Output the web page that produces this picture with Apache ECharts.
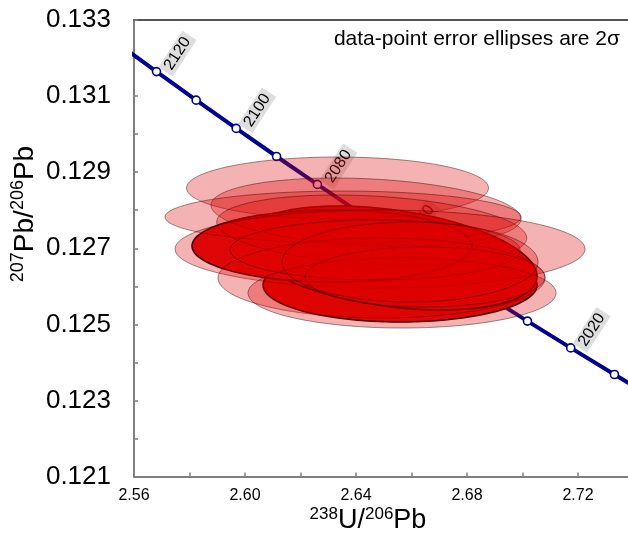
<!DOCTYPE html>
<html><head><meta charset="utf-8">
<script src="https://cdn.jsdelivr.net/npm/echarts@6/dist/echarts.min.js"></script>
<style>html,body{margin:0;padding:0;background:#fff}#c{width:628px;height:538px}</style>
</head><body><div id="c"></div>
<script>
// Concordia curve (age in Ma, 238U/206Pb, 207Pb/206Pb)
const concordiaAge = [2130,2120,2110,2100,2090,2080,2070,2060,2050,2040,2030,2020,2010,2000];
const concordiaX = [2.55396,2.56811,2.58240,2.59682,2.61138,2.62608,2.64092,2.65591,2.67105,2.68633,2.70177,2.71736,2.73311,2.74902];
const concordiaY = [0.132397,0.131643,0.130893,0.130151,0.129412,0.128679,0.127950,0.127226,0.126508,0.125794,0.125085,0.124381,0.123681,0.122987];
const labelAges = [2120,2100,2080,2060,2040,2020];

// Error ellipses (2 sigma): centre, half-extent in x and y, correlation, highlighted flag
const ellCenterX = [2.65586,2.65225,2.63135,2.63333,2.64360,2.63532,2.64566,2.64865,2.64919,2.65658,2.64685,2.66486,2.65946];
const ellCenterY = [0.126034,0.126743,0.127059,0.128584,0.127953,0.127821,0.127480,0.126980,0.126218,0.125823,0.126954,0.126244,0.126638];
const ellHalfX   = [0.04937,0.05297,0.05045,0.05441,0.05586,0.06414,0.05586,0.07387,0.05892,0.05550,0.05225,0.04324,0.04613];
const ellHalfY   = [0.000973,0.001367,0.000946,0.000815,0.000894,0.000683,0.000920,0.001025,0.001052,0.000920,0.000789,0.000789,0.001052];
const ellRho     = [0,-0.35,0,0,-0.2,0,-0.23,0,0,0,0,0,0];
const ellSolid   = [1,1,1,0,0,0,0,0,0,0,0,0,0];

const xTickLabels = ['2.56','2.60','2.64','2.68','2.72'];
const yTickLabels = ['0.121','0.123','0.125','0.127','0.129','0.131','0.133'];

const FONT = '"Liberation Sans", Arial, sans-serif';
const chart = echarts.init(document.getElementById('c'), null, {renderer:'canvas'});

const linePts = concordiaX.map((x,i)=>[x, concordiaY[i], concordiaAge[i]]);
const labelPts = linePts.filter(p => labelAges.indexOf(p[2]) >= 0);
const ellData = ellCenterX.map((x,i)=>[x, ellCenterY[i], ellHalfX[i], ellHalfY[i], ellRho[i], ellSolid[i]]);

function renderEllipse(params, api) {
  const cx = api.value(0), cy = api.value(1), sx = api.value(2), sy = api.value(3), rho = api.value(4), solid = api.value(5);
  const r2 = Math.sqrt(1 - rho*rho);
  const pts = [];
  const N = 120;
  for (let i = 0; i < N; i++) {
    const t = i / N * 2 * Math.PI;
    pts.push(api.coord([cx + sx*Math.cos(t), cy + sy*(rho*Math.cos(t) + r2*Math.sin(t))]));
  }
  return {
    type: 'polygon', shape: { points: pts },
    style: solid ? { fill: '#de0a0a', stroke: '#000', lineWidth: 1.6 }
                 : { fill: 'rgba(222,0,0,0.3)', stroke: 'rgba(50,0,0,0.45)', lineWidth: 1 }
  };
}

function renderLabel(params, api) {
  const p = api.coord([api.value(0), api.value(1)]);
  return {
    type: 'text', x: p[0] + 21, y: p[1] - 18, rotation: 57 * Math.PI / 180,
    style: { text: String(api.value(2)), x: 0, y: 0, align: 'center', verticalAlign: 'middle',
      font: '16px ' + FONT, fill: '#000', backgroundColor: '#dedede', padding: [1, 4, 0, 4] }
  };
}

const option = {
  animation: false,
  backgroundColor: '#fff',
  grid: { left: 134, right: 0, top: 20, bottom: 61.5, containLabel: false },
  xAxis: [{
    type: 'value', min: 2.56, max: 2.738, interval: 0.02,
    axisLine: { lineStyle: { color: '#7f7f7f', width: 2 } },
    axisTick: { inside: true, length: 4, lineStyle: { color: '#7f7f7f', width: 1.5 } },
    splitLine: { show: false },
    axisLabel: { color: '#000', fontSize: 16, fontFamily: FONT, margin: 11, showMaxLabel: false,
      formatter: v => { const s = v.toFixed(2); return xTickLabels.indexOf(s) >= 0 ? s : ''; } }
  }, {
    type: 'value', position: 'top', min: 2.56, max: 2.738,
    axisLine: { show: true, onZero: false, lineStyle: { color: '#555', width: 2 } },
    axisTick: { show: false }, axisLabel: { show: false }, splitLine: { show: false }
  }],
  yAxis: {
    type: 'value', min: 0.121, max: 0.133, interval: 0.001,
    axisLine: { show: true, lineStyle: { color: '#7f7f7f', width: 2 } },
    axisTick: { show: true, inside: true, length: 4, lineStyle: { color: '#7f7f7f', width: 1.5 } },
    splitLine: { show: false },
    axisLabel: { color: '#000', fontSize: 26, fontFamily: FONT, margin: 23,
      formatter: v => { const s = v.toFixed(3); return yTickLabels.indexOf(s) >= 0 ? s : ''; } }
  },
  series: [
    { type: 'line', data: linePts, showSymbol: false, z: 1, clip: true,
      lineStyle: { color: '#00008f', width: 4 }, silent: true },
    { type: 'scatter', data: linePts, symbol: 'circle', symbolSize: 8, z: 2, clip: true,
      itemStyle: { color: '#fff', borderColor: '#00008f', borderWidth: 1.6, opacity: 1 } },
    { type: 'custom', data: labelPts, renderItem: renderLabel, z: 3, clip: false },
    { type: 'custom', data: ellData, renderItem: renderEllipse, z: 4, clip: true }
  ],
  graphic: [
    { type: 'text', right: 8, top: 29, z: 10,
      style: { text: 'data-point error ellipses are 2σ', font: '21px ' + FONT, fill: '#000' } },
    { type: 'text', x: 368, y: 521, z: 10,
      style: { text: '{s|238}{m|U/}{s|206}{m|Pb}', align: 'center', verticalAlign: 'middle',
        rich: { s: { fontSize: 17, fontFamily: FONT, fill: '#000', verticalAlign: 'top', lineHeight: 18 },
                m: { fontSize: 27, fontFamily: FONT, fill: '#000', lineHeight: 30 } } } },
    { type: 'text', x: 25, y: 214, rotation: Math.PI / 2, z: 10,
      style: { text: '{s|207}{m|Pb/}{s|206}{m|Pb}', align: 'center', verticalAlign: 'middle',
        rich: { s: { fontSize: 18, fontFamily: FONT, fill: '#000', verticalAlign: 'top', lineHeight: 19 },
                m: { fontSize: 28, fontFamily: FONT, fill: '#000', lineHeight: 31 } } } }
  ]
};
chart.setOption(option);
</script></body></html>
